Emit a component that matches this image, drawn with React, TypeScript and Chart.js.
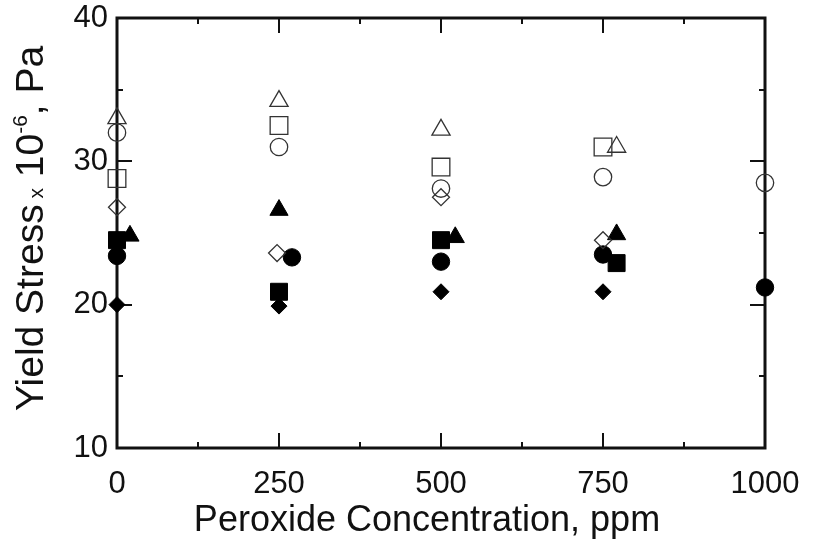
import React, { useEffect, useRef } from "react";
import { Chart, registerables } from "chart.js";

Chart.register(...registerables);

// ---- data ----
const xMajorTicks = [0, 250, 500, 750, 1000];
const xMinorTicks = [125, 375, 625, 875];
const yMajorTicks = [10, 20, 30, 40];
const yMinorTicks = [15, 25, 35];

const openTriangleX = [0, 250, 500, 771];
const openTriangleY = [33.0, 34.2, 32.2, 31.0];
const openSquareX = [0, 250, 500, 750];
const openSquareY = [28.8, 32.5, 29.6, 31.0];
const openCircleX = [0, 250, 500, 750, 1000];
const openCircleY = [32.0, 31.0, 28.1, 28.9, 28.5];
const openDiamondX = [0, 247, 500, 750];
const openDiamondY = [26.8, 23.6, 27.5, 24.5];
const filledTriangleX = [20, 250, 522, 771];
const filledTriangleY = [24.8, 26.6, 24.7, 24.9];
const filledSquareX = [0, 250, 500, 771];
const filledSquareY = [24.5, 20.9, 24.5, 22.9];
const filledCircleX = [0, 270, 500, 750, 1000];
const filledCircleY = [23.4, 23.3, 23.0, 23.5, 21.2];
const filledDiamondX = [0, 250, 500, 750];
const filledDiamondY = [20.0, 19.9, 20.9, 20.9];

const FONT = "'Liberation Sans', Arial, sans-serif";
const INK = "#111";

function pts(xs: number[], ys: number[]) {
  return xs.map((x, i) => ({ x, y: ys[i] }));
}

const framePlugin = {
  id: "frame",
  beforeDatasetsDraw(chart: any) {
    const { ctx, chartArea: a, scales } = chart;
    const xs = scales.x;
    const ys = scales.y;
    ctx.save();
    ctx.strokeStyle = INK;
    ctx.lineCap = "butt";
    ctx.lineWidth = 2;
    const major = 15;
    const minor = 6;
    const drawX = (v: number, len: number) => {
      const p = Math.round(xs.getPixelForValue(v));
      ctx.beginPath();
      ctx.moveTo(p, a.bottom);
      ctx.lineTo(p, a.bottom - len);
      ctx.moveTo(p, a.top);
      ctx.lineTo(p, a.top + len);
      ctx.stroke();
    };
    const drawY = (v: number, len: number) => {
      const p = Math.round(ys.getPixelForValue(v));
      ctx.beginPath();
      ctx.moveTo(a.left, p);
      ctx.lineTo(a.left + len, p);
      ctx.moveTo(a.right, p);
      ctx.lineTo(a.right - len, p);
      ctx.stroke();
    };
    xMajorTicks.forEach((v) => drawX(v, major));
    xMinorTicks.forEach((v) => drawX(v, minor));
    yMajorTicks.forEach((v) => drawY(v, major));
    yMinorTicks.forEach((v) => drawY(v, minor));
    ctx.lineWidth = 3;
    ctx.lineJoin = "miter";
    ctx.strokeRect(a.left, a.top, a.right - a.left, a.bottom - a.top);
    ctx.restore();
  },
  afterDraw(chart: any) {
    const { ctx, chartArea: a } = chart;
    ctx.save();
    ctx.fillStyle = INK;
    ctx.font = `36px ${FONT}`;
    ctx.textAlign = "center";
    ctx.textBaseline = "alphabetic";
    ctx.fillText("Peroxide Concentration, ppm", (a.left + a.right) / 2 - 14, 531);
    ctx.translate(43, 411);
    ctx.rotate(-Math.PI / 2);
    ctx.textAlign = "left";
    const big = `39px ${FONT}`;
    const small = `21px ${FONT}`;
    const parts: [string, string, number][] = [
      ["Yield Stress", big, 0],
      [" x", small, 0],
      [" 10", big, 0],
      ["-6", small, -16],
      [", Pa", big, 0],
    ];
    let cx = 0;
    for (const [t, f, dy] of parts) {
      ctx.font = f;
      ctx.fillText(t, cx, dy);
      cx += ctx.measureText(t).width;
    }
    ctx.restore();
  },
};

export default function App() {
  const ref = useRef<HTMLCanvasElement | null>(null);
  useEffect(() => {
    if (!ref.current) return;
    const open = { backgroundColor: "rgba(0,0,0,0)", borderColor: "#333", borderWidth: 1.3 };
    const filled = { backgroundColor: "#000", borderColor: "#000", borderWidth: 1 };
    const chart = new Chart(ref.current, {
      type: "scatter",
      data: {
        datasets: [
          { label: "open triangle", data: pts(openTriangleX, openTriangleY), pointStyle: "triangle", pointRadius: 10.5, ...open, clip: false } as any,
          { label: "open square", data: pts(openSquareX, openSquareY), pointStyle: "rect", pointRadius: 12.5, ...open, clip: false },
          { label: "open circle", data: pts(openCircleX, openCircleY), pointStyle: "circle", pointRadius: 8.7, ...open, clip: false },
          { label: "open diamond", data: pts(openDiamondX, openDiamondY), pointStyle: "rectRot", pointRadius: 8.5, ...open, clip: false },
          { label: "filled triangle", data: pts(filledTriangleX, filledTriangleY), pointStyle: "triangle", pointRadius: 10.5, ...filled, clip: false },
          { label: "filled square", data: pts(filledSquareX, filledSquareY), pointStyle: "rect", pointRadius: 12, ...filled, clip: false },
          { label: "filled circle", data: pts(filledCircleX, filledCircleY), pointStyle: "circle", pointRadius: 8.7, ...filled, clip: false },
          { label: "filled diamond", data: pts(filledDiamondX, filledDiamondY), pointStyle: "rectRot", pointRadius: 8, ...filled, clip: false },
        ],
      },
      options: {
        responsive: false,
        animation: false,
        events: [],
        layout: { padding: { left: 0, right: 52, top: 18, bottom: 0 } },
        plugins: { legend: { display: false }, tooltip: { enabled: false } },
        scales: {
          x: {
            type: "linear",
            min: 0,
            max: 1000,
            afterBuildTicks: (s: any) => {
              s.ticks = xMajorTicks.map((v) => ({ value: v }));
            },
            afterFit: (s: any) => {
              s.height = 99;
              s.paddingLeft = 0;
              s.paddingRight = 0;
            },
            ticks: {
              font: { size: 31, family: FONT },
              color: INK,
              padding: 18,
              maxRotation: 0,
              autoSkip: false,
              callback: (v: any) => String(v),
            },
            grid: { display: false, drawTicks: false },
            border: { display: false },
          },
          y: {
            type: "linear",
            min: 10,
            max: 40,
            afterBuildTicks: (s: any) => {
              s.ticks = yMajorTicks.map((v) => ({ value: v }));
            },
            afterFit: (s: any) => {
              s.width = 117;
              s.paddingTop = 0;
              s.paddingBottom = 0;
            },
            ticks: { font: { size: 31, family: FONT }, color: INK, padding: 9, callback: (v: any) => String(v) },
            grid: { display: false, drawTicks: false },
            border: { display: false },
          },
        },
      },
      plugins: [framePlugin],
    });
    return () => chart.destroy();
  }, []);
  return (
    <div style={{ position: "absolute", left: 0, top: 0, width: 817, height: 547, background: "#fff" }}>
      <canvas ref={ref} width={817} height={547} style={{ display: "block" }} />
    </div>
  );
}
